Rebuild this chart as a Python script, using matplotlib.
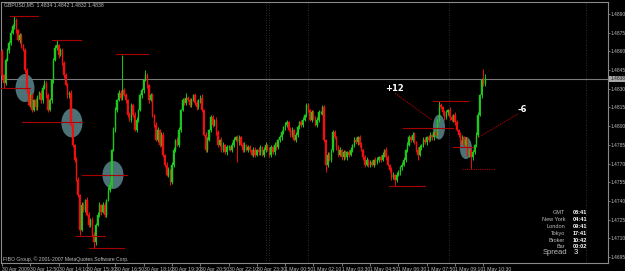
import matplotlib
matplotlib.use('Agg')
import matplotlib.pyplot as plt
from matplotlib.patches import Ellipse
import matplotlib.transforms as mtransforms

W, H = 625, 271
BASE = 1.4700
PIP = 0.0001

plt.rcParams['font.family'] = ['Liberation Sans Narrow', 'Liberation Sans', 'DejaVu Sans']

# GBPUSD M5 closes, in pips above 1.4700 (one value per bar)
open0 = 160
closes = [
    141, 135, 153, 161, 167, 175, 180, 185, 177, 169,
    173, 165, 161, 145, 129, 117, 125, 113, 121, 115,
    123, 127, 121, 131, 135, 125, 113, 121, 137, 153,
    163, 165, 157, 161, 151, 141, 133, 125, 127, 101,
    85, 73, 57, 45, 17, 37, 33, 41, 29, 21,
    25, 13, 7, 21, 29, 37, 31, 37, 29, 41,
    49, 53, 81, 97, 113, 121, 127, 123, 129, 125,
    121, 109, 105, 117, 109, 97, 105, 113, 125, 129,
    137, 141, 133, 121, 125, 109, 101, 89, 97, 85,
    93, 77, 69, 61, 65, 55, 69, 81, 89, 85,
    97, 113, 121, 119, 123, 121, 117, 121, 125, 119,
    115, 121, 123, 113, 93, 81, 89, 97, 107, 101,
    105, 95, 85, 89, 81, 85, 79, 83, 83, 81,
    85, 89, 91, 87, 91, 85, 81, 85, 81, 83,
    81, 77, 81, 77, 81, 79, 83, 77, 81, 85,
    81, 77, 83, 79, 85, 83, 89, 91, 95, 99,
    101, 103, 97, 93, 97, 89, 93, 99, 103, 101,
    105, 109, 117, 113, 105, 111, 107, 101, 105, 111,
    111, 115, 89, 69, 77, 73, 81, 95, 91, 83,
    77, 81, 75, 79, 75, 79, 77, 81, 85, 89,
    87, 91, 85, 81, 75, 69, 73, 69, 71, 69,
    73, 71, 73, 75, 73, 77, 81, 75, 69, 65,
    59, 61, 57, 61, 63, 67, 69, 73, 81, 85,
    91, 89, 93, 87, 81, 77, 83, 85, 89, 87,
    91, 89, 93, 91, 95, 93, 105, 117, 115, 111,
    107, 111, 113, 107, 105, 109, 103, 97, 93, 87,
    91, 85, 89, 77, 81, 75, 79, 85, 93, 109,
    125, 137, 134, 138,
]
# upper / lower wick lengths in pips
wick_up = [
    2, 1, 2, 2, 1, 2, 2, 3, 2, 1,
    2, 2, 1, 2, 2, 1, 2, 2, 1, 2,
    2, 1, 2, 2, 2, 1, 2, 2, 1, 2,
    2, 4, 1, 2, 2, 1, 2, 2, 1, 2,
    2, 1, 2, 2, 1, 2, 2, 1, 2, 2,
    1, 2, 2, 1, 2, 2, 1, 2, 2, 1,
    2, 2, 1, 2, 2, 1, 2, 2, 28, 2,
    2, 1, 2, 2, 1, 2, 2, 1, 2, 2,
    1, 4, 2, 1, 2, 2, 1, 2, 2, 1,
    2, 2, 1, 2, 2, 1, 2, 2, 1, 2,
    2, 1, 2, 2, 4, 1, 2, 2, 1, 2,
    2, 1, 2, 3, 1, 2, 2, 1, 2, 2,
    1, 2, 2, 1, 2, 2, 1, 2, 2, 1,
    2, 2, 1, 2, 2, 1, 2, 2, 1, 2,
    2, 1, 2, 2, 1, 2, 2, 1, 2, 2,
    1, 2, 2, 1, 2, 2, 1, 2, 2, 1,
    2, 2, 1, 2, 2, 1, 2, 2, 1, 2,
    2, 1, 2, 2, 1, 2, 2, 1, 2, 2,
    1, 2, 2, 1, 2, 2, 1, 2, 2, 1,
    2, 2, 1, 2, 2, 1, 2, 2, 1, 2,
    2, 1, 2, 2, 1, 2, 2, 1, 2, 2,
    1, 2, 2, 1, 2, 2, 1, 2, 2, 1,
    2, 2, 1, 2, 2, 1, 2, 2, 1, 2,
    2, 1, 2, 2, 1, 2, 2, 1, 2, 2,
    1, 2, 2, 1, 2, 2, 1, 3, 2, 1,
    2, 2, 1, 2, 2, 1, 2, 2, 1, 2,
    2, 1, 2, 2, 1, 2, 2, 1, 2, 2,
    1, 2, 9, 4,
]
wick_dn = [
    3, 4, 2, 1, 2, 2, 1, 2, 2, 1,
    2, 2, 1, 2, 2, 1, 2, 2, 1, 2,
    2, 1, 2, 2, 1, 2, 2, 1, 2, 2,
    1, 2, 2, 1, 2, 2, 1, 2, 2, 1,
    2, 2, 1, 2, 4, 1, 2, 2, 1, 2,
    2, 1, 5, 2, 1, 2, 2, 1, 2, 2,
    1, 2, 2, 1, 2, 2, 1, 2, 2, 1,
    2, 2, 1, 2, 2, 1, 2, 2, 1, 2,
    2, 1, 2, 2, 1, 2, 2, 1, 2, 2,
    1, 2, 2, 1, 2, 2, 1, 2, 2, 1,
    2, 2, 1, 2, 2, 1, 2, 2, 1, 2,
    2, 1, 2, 2, 1, 2, 2, 1, 2, 2,
    1, 2, 2, 1, 2, 2, 1, 2, 2, 1,
    2, 2, 1, 16, 2, 1, 2, 2, 1, 2,
    2, 1, 2, 2, 1, 2, 2, 1, 2, 2,
    1, 2, 2, 1, 2, 2, 1, 2, 2, 1,
    2, 2, 1, 2, 2, 1, 2, 2, 1, 2,
    2, 1, 2, 2, 1, 2, 2, 1, 2, 2,
    1, 2, 2, 6, 2, 1, 2, 2, 1, 2,
    2, 1, 2, 2, 1, 2, 2, 1, 2, 2,
    1, 2, 2, 1, 2, 2, 1, 2, 2, 1,
    2, 2, 1, 2, 2, 1, 2, 2, 1, 2,
    2, 1, 5, 2, 1, 2, 2, 1, 2, 2,
    1, 2, 2, 1, 2, 4, 1, 2, 2, 1,
    2, 2, 1, 2, 2, 1, 2, 2, 1, 2,
    2, 1, 2, 2, 1, 2, 2, 1, 2, 2,
    1, 2, 2, 1, 2, 9, 2, 1, 2, 2,
    1, 2, 2, 2,
]

time_labels = ['30 Apr 2009', '30 Apr 12:50', '30 Apr 14:10', '30 Apr 15:30',
               '30 Apr 16:50', '30 Apr 18:10', '30 Apr 19:30', '30 Apr 20:50',
               '30 Apr 22:10', '30 Apr 23:30', '1 May 00:50', '1 May 02:10',
               '1 May 03:30', '1 May 04:50', '1 May 06:30', '1 May 07:50',
               '1 May 09:10', '1 May 10:30']
price_ticks = [1.4890, 1.4875, 1.4860, 1.4845, 1.4830, 1.4815, 1.4800, 1.4785,
               1.4770, 1.4755, 1.4740, 1.4725, 1.4710, 1.4695]
bid = 1.4838

# drawn objects: (bar_from, bar_to, pips)
hlines_solid = [(4.5, 20.3, 188), (28.2, 44.6, 169), (64.4, 82.5, 158),
                (-1.0, 15.8, 131), (11.3, 45.2, 103), (45.2, 70.6, 61),
                (41.8, 58.2, 12), (49.2, 68.9, 2), (218.6, 239.0, 52),
                (243.5, 263.3, 120), (226.6, 254.8, 98.5), (254.8, 266.1, 83)]
hlines_dotted = [(259.9, 278.5, 66)]
diag_lines = [((222.0, 126.6), (242.9, 104.9)), ((291.5, 109.8), (268.4, 90.5))]
# ellipses: (bar, pips, width bars, height pips)
ellipses = [(13.0, 130.6, 10.7, 22.5), (39.5, 102.6, 11.9, 23.3),
            (62.7, 60.9, 11.9, 22.5), (246.9, 99.3, 6.8, 20.0),
            (262.1, 82.5, 6.8, 17.6)]
notes = [(222.0, 130.6, '+12'), (293.8, 113.0, '-6')]
separators = [149.2, 150.8, 172.9, 252.5, 330.0]

info_names = ['GMT', 'New York', 'London', 'Tokyo', 'Broker', 'Bar']
info_values = ['08:41', '04:41', '09:41', '17:41', '10:42', '00:02']


def px(x, y):
    return x / W, 1 - y / H


def price(p):
    return BASE + p * PIP


GREEN = '#1ec81e'
RED = '#f01010'
LINE_RED = '#a80000'
TXT = '#bdbdbd'
FS = 3.7

fig = plt.figure(figsize=(W / 100, H / 100), dpi=100, facecolor='black')
ax = fig.add_axes([1 / W, 8 / H, 607 / W, 261 / H])
ax.set_facecolor('black')
ax.set_xlim(-0.56, 342.4)
ax.set_ylim(1.46903, 1.48996)

for xs in separators:
    ax.axvline(xs, color='#3c3c3c', lw=0.6, ls=(0, (1, 2)), zorder=0)

ax.axhline(bid, color='#7a7a7a', lw=0.8, zorder=1)

for b, p, w, h in ellipses:
    ax.add_patch(Ellipse((b, price(p)), w, h * PIP, facecolor='#557f85',
                         edgecolor='none', alpha=0.9, zorder=2))

opens = [open0] + closes[:-1]
for i, (o, c) in enumerate(zip(opens, closes)):
    col = GREEN if c >= o else RED
    hi = max(o, c) + wick_up[i]
    lo = min(o, c) - wick_dn[i]
    ax.vlines(i, price(lo), price(hi), color=col, lw=0.7, zorder=3)
    ax.bar(i, (c - o) * PIP, bottom=price(o), width=0.7, color=col,
           edgecolor=col, linewidth=0.3, zorder=3)

for b0, b1, p in hlines_solid:
    ax.plot([b0, b1], [price(p), price(p)], color=LINE_RED, lw=0.8, zorder=4)
for b0, b1, p in hlines_dotted:
    ax.plot([b0, b1], [price(p), price(p)], color=LINE_RED, lw=0.8,
            ls=(0, (1, 1)), zorder=4)
for (b0, p0), (b1, p1) in diag_lines:
    ax.plot([b0, b1], [price(p0), price(p1)], color=LINE_RED, lw=0.7,
            ls=(0, (1.5, 1)), zorder=4)

for b, p, t in notes:
    ax.text(b, price(p), t, color='white', fontsize=6, fontweight='bold',
            family='DejaVu Sans', ha='center', va='center', zorder=6)

# axes look
for s in ax.spines.values():
    s.set_color('#8a8a8a')
    s.set_linewidth(0.8)
ax.yaxis.tick_right()
ax.set_yticks(price_ticks)
ax.set_yticklabels(['%.4f' % v for v in price_ticks])
ax.tick_params(axis='y', colors='#8a8a8a', labelcolor=TXT, labelsize=3.5,
               length=1.5, width=0.6, pad=0.4)
ax.set_xticks([16 * k for k in range(len(time_labels))])
ax.set_xticklabels(time_labels, ha='left')
ax.tick_params(axis='x', colors='#8a8a8a', labelcolor=TXT, labelsize=FS,
               length=2, width=0.6, pad=0.6)

# current price marker on the scale
trans = mtransforms.blended_transform_factory(ax.transAxes, ax.transData)
ax.text(1.0035, bid, '%.4f' % bid, transform=trans, fontsize=3.5,
        color='#202020', va='center', ha='left',
        bbox=dict(boxstyle='square,pad=0.15', facecolor='#a8a8a8', edgecolor='none'))

fig.text(*px(4, 5), 'GBPUSD,M5  1.4834 1.4842 1.4832 1.4838', color=TXT,
         fontsize=FS, va='center', ha='left')
fig.text(*px(3, 259), 'FIBO Group, \u00a9 2001-2007 MetaQuotes Software Corp.',
         color=TXT, fontsize=FS, va='center', ha='left')

for k, (name, val) in enumerate(zip(info_names, info_values)):
    y = 213 + k * 6.8
    fig.text(*px(565, y), name, color=TXT, fontsize=4, ha='right', va='center')
    fig.text(*px(573, y), val, color='white', fontsize=4, fontweight='bold',
             ha='left', va='center')
fig.text(*px(567, 253), 'Spread', color=TXT, fontsize=5.5, ha='right', va='center')
fig.text(*px(574, 253), '3', color='white', fontsize=5.5, ha='left', va='center')

fig.savefig('out.png', dpi=100, facecolor='black')
